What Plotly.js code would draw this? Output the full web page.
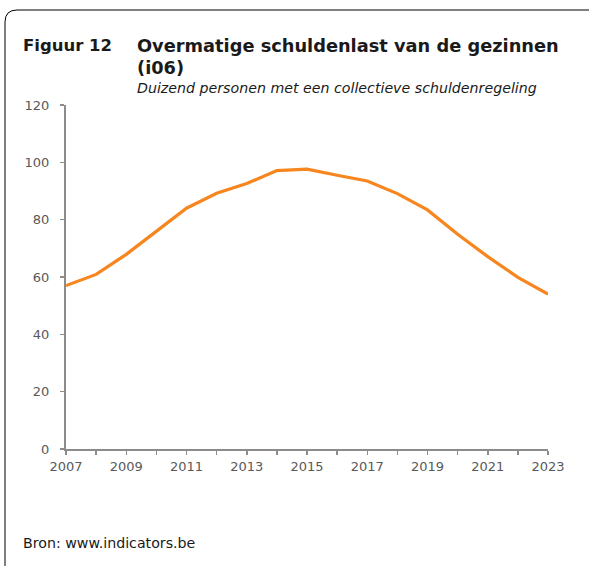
<!DOCTYPE html>
<html>
<head>
<meta charset="utf-8">
<script src="https://cdn.plot.ly/plotly-3.0.1.min.js"></script>
<style>
html,body{margin:0;padding:0;background:#fff;}
#chart{width:589px;height:566px;}
</style>
</head>
<body>
<div id="chart"></div>
<script>
const years = [2007,2008,2009,2010,2011,2012,2013,2014,2015,2016,2017,2018,2019,2020,2021,2022,2023];
const persons = [57.0,60.9,67.9,75.8,84.0,89.2,92.6,97.1,97.6,95.5,93.5,89.1,83.4,74.9,67.1,59.9,54.0];
const tickYears = years;
const tickLabels = years.map(y => (y % 2 === 1) ? String(y) : '');
const yTicks = [0,20,40,60,80,100,120];

const W = 589, H = 566;
const M = {l:66, r:41, t:105, b:117};
const pw = W - M.l - M.r, ph = H - M.t - M.b;
const px = x => (x - M.l) / pw;
const py = y => (H - M.b - y) / ph;

const font = '"DejaVu Sans", Verdana, sans-serif';

const trace = {
  x: years, y: persons, type: 'scatter', mode: 'lines',
  line: {color: '#F7861F', width: 3.2},
  hoverinfo: 'skip'
};

const r = 12;
const fx = px(5), fy = py(10);
const framePath = `M ${fx},${py(600)} L ${fx},${py(10 + r)} Q ${fx},${fy} ${px(5 + r)},${fy} L ${px(620)},${fy}`;

const layout = {
  width: W, height: H,
  margin: M,
  paper_bgcolor: '#fff', plot_bgcolor: '#fff',
  showlegend: false,
  font: {family: font, size: 13, color: '#595959'},
  xaxis: {
    range: [2007, 2023], tickmode: 'array', tickvals: tickYears, ticktext: tickLabels,
    showgrid: false, zeroline: false, showline: true, linecolor: '#8c8c8c', linewidth: 2,
    ticks: 'outside', ticklen: 4, tickcolor: '#8c8c8c', tickwidth: 1.5,
    tickfont: {family: font, size: 13, color: '#595959'}, fixedrange: true
  },
  yaxis: {
    range: [0, 120], tickmode: 'array', tickvals: yTicks,
    showgrid: false, zeroline: false, showline: true, linecolor: '#8c8c8c', linewidth: 2,
    ticks: 'outside', ticklen: 4, tickcolor: '#8c8c8c', tickwidth: 1.5, ticklabelstandoff: 8,
    tickfont: {family: font, size: 13, color: '#595959'}, fixedrange: true
  },
  shapes: [{
    type: 'path', xref: 'paper', yref: 'paper', path: framePath,
    line: {color: '#000', width: 1}
  }],
  annotations: [
    {xref:'paper', yref:'paper', x:px(21), y:py(46), xanchor:'left', yanchor:'middle', showarrow:false,
     text:'<b>Figuur 12</b>', font:{family:font, size:16.5, color:'#1a1a1a'}},
    {xref:'paper', yref:'paper', x:px(135), y:py(46), xanchor:'left', yanchor:'middle', showarrow:false,
     text:'<b>Overmatige schuldenlast van de gezinnen</b>', font:{family:font, size:17.8, color:'#1a1a1a'}},
    {xref:'paper', yref:'paper', x:px(135), y:py(67), xanchor:'left', yanchor:'middle', showarrow:false,
     text:'<b>(i06)</b>', font:{family:font, size:17.8, color:'#1a1a1a'}},
    {xref:'paper', yref:'paper', x:px(135), y:py(88), xanchor:'left', yanchor:'middle', showarrow:false,
     text:'<i>Duizend personen met een collectieve schuldenregeling</i>', font:{family:font, size:14.2, color:'#1a1a1a'}},
    {xref:'paper', yref:'paper', x:px(21), y:py(543), xanchor:'left', yanchor:'middle', showarrow:false,
     text:'Bron: www.indicators.be', font:{family:font, size:14.2, color:'#1a1a1a'}}
  ]
};

Plotly.newPlot('chart', [trace], layout, {displayModeBar: false, staticPlot: true});
</script>
</body>
</html>
